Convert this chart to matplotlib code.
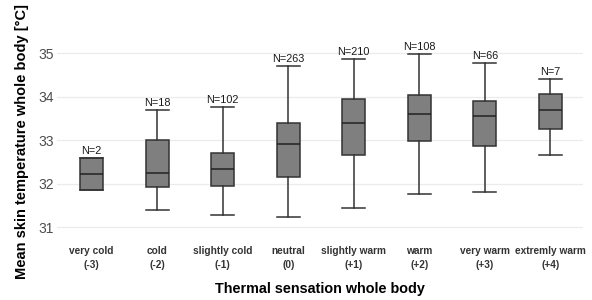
import matplotlib
matplotlib.use('Agg')
import matplotlib.pyplot as plt

plt.rcParams['font.family'] = ['Liberation Sans', 'DejaVu Sans']

# categories (two-line labels)
names = ['very cold', 'cold', 'slightly cold', 'neutral', 'slightly warm',
         'warm', 'very warm', 'extremly warm']
codes = ['(-3)', '(-2)', '(-1)', '(0)', '(+1)', '(+2)', '(+3)', '(+4)']
counts = [2, 18, 102, 263, 210, 108, 66, 7]

# box statistics
whisker_low = [31.85, 31.39, 31.28, 31.23, 31.44, 31.76, 31.82, 32.66]
q1 = [31.85, 31.92, 31.96, 32.15, 32.66, 32.98, 32.87, 33.27]
median = [32.23, 32.25, 32.34, 32.92, 33.41, 33.60, 33.57, 33.70]
q3 = [32.60, 33.00, 32.72, 33.39, 33.96, 34.04, 33.91, 34.07]
whisker_high = [32.60, 33.70, 33.77, 34.70, 34.87, 34.99, 34.78, 34.40]

stats = []
for i in range(len(names)):
    stats.append({'whislo': whisker_low[i], 'q1': q1[i], 'med': median[i],
                  'q3': q3[i], 'whishi': whisker_high[i], 'fliers': []})

fig = plt.figure(figsize=(5.92, 3.0), dpi=100)
ax = fig.add_axes([0.096, 0.22, 0.889, 0.653])

pos = list(range(1, len(names) + 1))
w = 0.35
edge = '#333333'
ax.bxp(stats, positions=pos, widths=w, capwidths=w, patch_artist=True,
       showfliers=False,
       boxprops=dict(facecolor='#7f7f7f', edgecolor=edge, linewidth=1.1),
       medianprops=dict(color='#222222', linewidth=1.1),
       whiskerprops=dict(color=edge, linewidth=1.1),
       capprops=dict(color=edge, linewidth=1.1), zorder=3)

for p, n, top in zip(pos, counts, whisker_high):
    ax.annotate('N=%d' % n, (p, top), xytext=(0, 1.5), textcoords='offset points',
                ha='center', va='bottom', fontsize=7.8, color='#1a1a1a')

ax.set_xlim(0.47, 8.5)
ax.set_ylim(30.85, 35.35)
ax.set_yticks([31, 32, 33, 34, 35])
ax.set_xticks(pos)
ax.set_xticklabels([a + '\n' + b for a, b in zip(names, codes)],
                   fontsize=7.3, fontweight='bold', color='#333333', linespacing=1.5)
ax.tick_params(axis='y', labelsize=10, colors='#4d4d4d', length=0, pad=2)
ax.tick_params(axis='x', length=0, pad=9)
ax.yaxis.grid(True, color='#ebebeb', linewidth=0.9, zorder=0)
ax.set_axisbelow(True)
for s in ax.spines.values():
    s.set_visible(False)

ax.set_ylabel('Mean skin temperature whole body [°C]', fontsize=10.5,
              fontweight='bold', color='black')
ax.set_xlabel('Thermal sensation whole body', fontsize=10.4,
              fontweight='bold', color='black', labelpad=8)
ax.yaxis.set_label_coords(-0.053, 0.47)

fig.savefig('out.png', dpi=100)
